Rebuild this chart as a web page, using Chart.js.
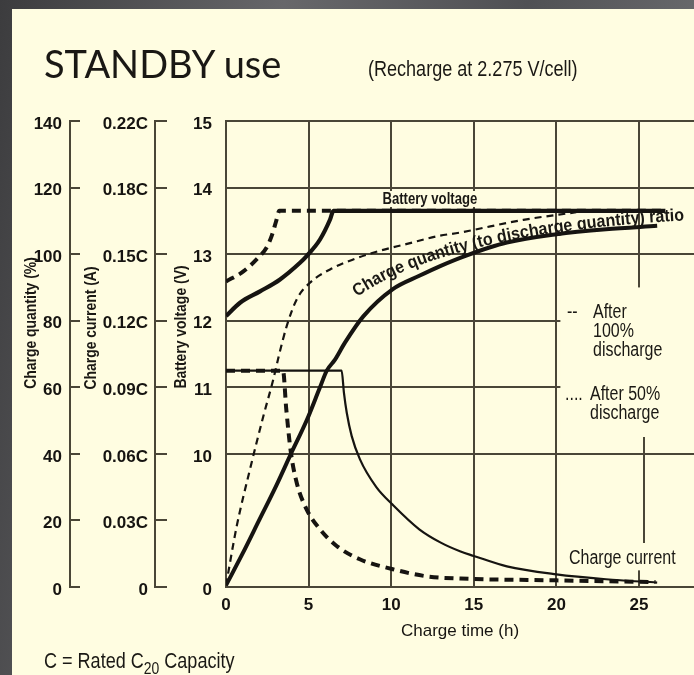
<!DOCTYPE html>
<html>
<head>
<meta charset="utf-8">
<script src="https://cdn.jsdelivr.net/npm/chart.js@4.4.0/dist/chart.umd.min.js"></script>
<style>
  html, body { margin: 0; padding: 0; }
  body {
    width: 694px; height: 675px; overflow: hidden; position: relative;
    background: linear-gradient(100deg, #3c3c3e 0%, #67676a 35%, #505154 65%, #77777a 100%);
  }
  #panel { position: absolute; left: 12px; top: 9px; right: 0; bottom: 0; background: #fffde1; }
  canvas { position: absolute; left: 0; top: 0; }
  .t {
    position: absolute; z-index: 2; color: #1a1814; white-space: nowrap; line-height: 1;
    font-family: "Liberation Sans", Arimo, sans-serif;
    transform-origin: 0 0; transform: scaleX(0.82);
  }
  .title { left: 44px; top: 44px; font-family: Lato, "Open Sans", sans-serif; font-size: 38px; transform: none; }
  .sub { left: 368px; top: 58px; font-size: 22px; }
  .foot { left: 44px; top: 650px; font-size: 22px; }
  .foot sub { font-size: 17px; vertical-align: -6px; line-height: 0; }
  .ytitle { font-size: 17px; font-weight: bold; transform-origin: 50% 50%; transform: translate(-50%, -50%) rotate(-90deg) scaleX(0.82); }
  .note { font-size: 19.5px; line-height: 19px; }
  .bv { left: 380px; top: 191px; font-size: 16px; font-weight: bold; background: #fffde1; padding: 0 3px; }
  .pointer { position: absolute; z-index: 2; left: 643px; top: 437px; height: 106px; border-left: 2px solid #4a4637; }
  svg { position: absolute; left: 0; top: 0; z-index: 2; }
</style>
</head>
<body>
<div id="panel"></div>
<canvas id="chart" width="694" height="675"></canvas>

<div class="t title">STANDBY use</div>
<div class="t sub">(Recharge at 2.275 V/cell)</div>
<div class="t foot">C = Rated C<sub>20</sub> Capacity</div>

<div class="t ytitle" style="left:30px; top:323px">Charge quantity (%)</div>
<div class="t ytitle" style="left:90px; top:328px">Charge current (A)</div>
<div class="t ytitle" style="left:180px; top:327px">Battery voltage (V)</div>

<div class="t bv">Battery voltage</div>
<div class="t note" style="left:567px; top:302px">--</div>
<div class="t note" style="left:593px; top:302px">After<br>100%<br>discharge</div>
<div class="t note" style="left:565px; top:384px">....</div>
<div class="t note" style="left:590px; top:384px">After 50%<br>discharge</div>
<div class="t note" style="left:569px; top:548px">Charge current</div>
<div class="pointer"></div>

<svg width="694" height="675">
  <path id="qpath" d="M 357 297 Q 450 232 692 220" fill="none" stroke="none"/>
  <text font-family="Liberation Sans, Arimo, sans-serif" font-size="17.5" font-weight="bold" fill="#1a1814">
    <textPath href="#qpath" textLength="340" lengthAdjust="spacingAndGlyphs">Charge quantity (to discharge quantity) ratio</textPath>
  </text>
</svg>

<script>
const INK = "#161411";
const LINE = "#4a4637";
const PAPER = "#fffde1";
const SANS = "'Liberation Sans', Arimo, sans-serif";

// tick values (charge quantity scale) and the labels of the three left axes
const X_TICKS = [0, 5, 10, 15, 20, 25];
const Q_TICKS = [0, 20, 40, 60, 80, 100, 120, 140];
const Q_LABELS = ["0", "20", "40", "60", "80", "100", "120", "140"];
const I_LABELS = ["0", "0.03C", "0.06C", "0.09C", "0.12C", "0.15C", "0.18C", "0.22C"];
const V_LABELS = ["0", "", "10", "11", "12", "13", "14", "15"];

// charge quantity (%), after 100% and 50% discharge
const Q_HOURS_100 = [0, 1, 2, 3, 3.93, 4.88, 5.69, 6.1, 6.6, 7.2, 8.31, 10.1, 11.7, 13, 14.5, 17, 20, 23, 26.1];
const QUANT_100 = [0.5, 10, 20, 30, 40, 50, 60, 65, 68.3, 73.4, 81.3, 89.5, 93.5, 96.5, 99.5, 103.5, 106, 107.5, 108.5];
const Q_HOURS_50 = [0, 0.65, 1.45, 2.26, 2.86, 3.2, 3.67, 4.28, 5.08, 6.3, 7.7, 9.3, 10.9, 12.9, 14.2, 15, 18, 21.2];
const QUANT_50 = [0.5, 18.3, 35.3, 51.3, 62.3, 69.5, 78.3, 86.4, 91.4, 95.4, 98.4, 101, 103, 105.5, 106.5, 107.3, 110.3, 112.6];

// battery voltage (V)
const V_HOURS_100 = [0, 0.85, 2.06, 3.27, 4.48, 4.88, 5.69, 6.3, 6.5, 26.6];
const VOLT_100 = [12.07, 12.27, 12.44, 12.62, 12.87, 12.97, 13.22, 13.52, 13.65, 13.65];
const V_HOURS_50 = [0, 1.05, 1.96, 2.46, 2.76, 3.03, 3.23, 26.6];
const VOLT_50 = [12.59, 12.74, 12.95, 13.1, 13.27, 13.49, 13.65, 13.65];

// charge current (C)
const I_HOURS_100 = [0, 7.0, 7.14, 7.31, 7.61, 8.11, 9.1, 10.1, 11.7, 13, 14.2, 15, 17, 20, 23, 26.1];
const AMP_100 = [0.0975, 0.0975, 0.0875, 0.0785, 0.068, 0.0575, 0.045, 0.037, 0.026, 0.02, 0.016, 0.014, 0.0093, 0.0057, 0.0035, 0.002];
const I_HOURS_50 = [0, 3.45, 3.65, 3.93, 4.28, 4.88, 5.69, 6.7, 8.1, 10.1, 12.15, 14.2, 20, 26];
const AMP_50 = [0.0975, 0.0975, 0.08, 0.0605, 0.047, 0.035, 0.026, 0.0185, 0.0125, 0.008, 0.0048, 0.0038, 0.003, 0.0022];

// all curves share the charge-quantity scale: 13 V sits on 100 %, 0.03C per 20 %
const voltY = (v) => (v - 8) * 20;
const ampY = (c) => (c / 0.03) * 20;
const pts = (hours, vals, f = (v) => v) => hours.map((h, i) => ({ x: h, y: f(vals[i]) }));

const curve = (data, width, dash = []) => ({
  data, borderColor: INK, borderWidth: width, borderDash: dash, pointRadius: 0, fill: false,
  cubicInterpolationMode: "monotone", borderCapStyle: "butt", xAxisID: "x", yAxisID: "yV",
});

// the printed chart leaves the grid blank behind the legend notes (right of 20 h, below 12.5 V),
// except for the 10 V line that runs on to the edge
const legendGap = {
  id: "legendGap",
  beforeDatasetsDraw(chart) {
    const { ctx, chartArea, scales: { x, yV } } = chart;
    const left = x.getPixelForValue(20) + 4;
    const top = yV.getPixelForValue(90);
    const bottom = yV.getPixelForValue(5);
    const mid = Math.round(yV.getPixelForValue(40));
    ctx.save();
    ctx.fillStyle = PAPER;
    ctx.fillRect(left, top, chartArea.right - left, bottom - top);
    ctx.strokeStyle = LINE;
    ctx.lineWidth = 2;
    ctx.beginPath();
    ctx.moveTo(left - 2, mid);
    ctx.lineTo(chartArea.right, mid);
    ctx.stroke();
    ctx.restore();
  },
};

const tickFont = { family: SANS, size: 17, weight: "bold" };

const leftAxis = (labels, weight, width, grid, pad) => ({
  type: "linear", position: "left", min: 0, max: 140, weight,
  afterBuildTicks: (s) => { s.ticks = Q_TICKS.map((value) => ({ value })); },
  afterFit: (s) => { s.width = width; },
  grid,
  border: { display: true, color: LINE, width: 2 },
  ticks: { color: INK, padding: pad, labelOffset: 3, font: tickFont, callback: (v) => labels[Q_TICKS.indexOf(v)] },
});

new Chart(document.getElementById("chart"), {
  type: "line",
  data: {
    datasets: [
      curve(pts(Q_HOURS_100, QUANT_100), 4),
      curve(pts(Q_HOURS_50, QUANT_50), 2.2, [7, 5]),
      curve(pts(V_HOURS_100, VOLT_100, voltY), 4.2),
      curve(pts(V_HOURS_50, VOLT_50, voltY), 4, [9, 6]),
      curve(pts(I_HOURS_100, AMP_100, ampY), 2.2),
      curve(pts(I_HOURS_50, AMP_50, ampY), 4, [9, 6]),
    ],
  },
  options: {
    responsive: false, animation: false, events: [],
    layout: { padding: { top: 121, left: 0, right: 0, bottom: 0 } },
    plugins: { legend: { display: false }, tooltip: { enabled: false } },
    scales: {
      x: {
        type: "linear", min: 0, max: 28.33,
        afterBuildTicks: (s) => { s.ticks = X_TICKS.map((value) => ({ value })); },
        afterFit: (s) => { s.height = 88; },
        grid: { color: LINE, lineWidth: 2, drawTicks: false },
        border: { display: true, color: LINE, width: 2 },
        ticks: { color: INK, padding: 8, font: tickFont },
        title: { display: true, text: "Charge time (h)", color: INK, font: { family: SANS, size: 17 }, padding: { top: 0, bottom: 33 } },
      },
      yQ: leftAxis(Q_LABELS, 3, 70, { drawOnChartArea: false, tickLength: -10, color: LINE, lineWidth: 2 }, 18),
      yI: leftAxis(I_LABELS, 2, 85, { drawOnChartArea: false, tickLength: -12, color: LINE, lineWidth: 2 }, 19),
      yV: leftAxis(V_LABELS, 1, 71, {
        drawTicks: false, lineWidth: 2,
        color: (ctx) => (ctx.tick && ctx.tick.value === 20 ? "rgba(0,0,0,0)" : LINE),
      }, 14),
    },
  },
  plugins: [legendGap],
});
</script>
</body>
</html>
